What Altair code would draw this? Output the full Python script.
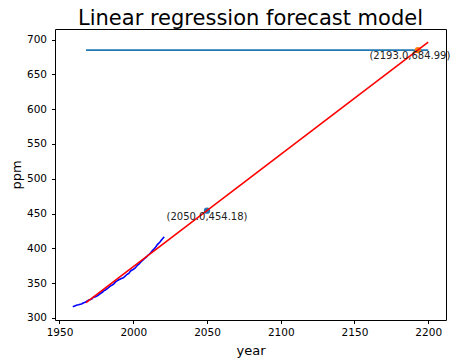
import altair as alt
import pandas as pd

# Observed annual CO2 (ppm)
years = list(range(1959, 2022))
co2 = [315.98, 316.91, 317.64, 318.45, 318.99, 319.62, 320.04, 321.37, 322.18, 323.05,
       324.62, 325.68, 326.32, 327.46, 329.68, 330.19, 331.13, 332.03, 333.84, 335.41,
       336.84, 338.76, 340.12, 341.48, 343.15, 344.87, 346.35, 347.61, 349.31, 351.69,
       353.20, 354.45, 355.70, 356.54, 357.21, 358.96, 360.97, 362.74, 363.88, 366.84,
       368.54, 369.71, 371.32, 373.45, 375.98, 377.70, 379.98, 382.09, 384.02, 385.83,
       387.64, 390.10, 391.85, 394.06, 396.74, 398.81, 401.01, 404.41, 406.76, 408.72,
       411.66, 414.24, 416.45]

# Regression line
fit_years = [1968, 2200]
fit_ppm = [321.83, 696.29]

# Horizontal reference line
hline_x = [1968, 2200]
hline_y = [684.99, 684.99]

# Highlighted points
pt_years = [2050, 2193]
pt_ppm = [454.18, 684.99]
pt_labels = ["(2050.0,454.18)", "(2193.0,684.99)"]
pt_colors = ["#1f77b4", "#ff7f0e"]

obs = pd.DataFrame({"year": years, "ppm": co2})
fit = pd.DataFrame({"year": fit_years, "ppm": fit_ppm})
hl = pd.DataFrame({"year": hline_x, "ppm": hline_y})
pts = pd.DataFrame({"year": pt_years, "ppm": pt_ppm, "label": pt_labels, "color": pt_colors})

xs = alt.Scale(domain=[1946.95, 2212.05], nice=False, zero=False)
ys = alt.Scale(domain=[296.97, 715.3], nice=False, zero=False)

xenc = alt.X("year:Q", scale=xs, title="year",
             axis=alt.Axis(values=[1950, 2000, 2050, 2100, 2150, 2200], format="d"))
yenc = alt.Y("ppm:Q", scale=ys, title="ppm",
             axis=alt.Axis(values=[300, 350, 400, 450, 500, 550, 600, 650, 700]))

hline = alt.Chart(hl).mark_line(color="#1f77b4", strokeWidth=1.6).encode(x=xenc, y=yenc)
obs_line = alt.Chart(obs).mark_line(color="blue", strokeWidth=1.6).encode(x=xenc, y=yenc)
dots = alt.Chart(pts).mark_circle(size=40, opacity=1).encode(
    x=xenc, y=yenc, color=alt.Color("color:N", scale=None))
fit_line = alt.Chart(fit).mark_line(color="red", strokeWidth=1.6).encode(x=xenc, y=yenc)
label1 = alt.Chart(pts).transform_filter(alt.datum.year == 2050).mark_text(
    font="DejaVu Sans", fontSize=10, color="#222222", align="center", baseline="top", dy=1
).encode(x=xenc, y=yenc, text="label:N")
label2 = alt.Chart(pts).transform_filter(alt.datum.year == 2193).mark_text(
    font="DejaVu Sans", fontSize=10, color="#222222", align="center", baseline="top", dy=1, dx=-8
).encode(x=xenc, y=yenc, text="label:N")

chart = alt.layer(hline, obs_line, dots, fit_line, label1, label2).properties(
    width=391, height=291,
    title=alt.TitleParams("Linear regression forecast model", font="DejaVu Sans",
                          fontSize=21, fontWeight="normal", color="black", offset=0),
    autosize=alt.AutoSizeParams(type="none"),
    padding={"left": 47, "top": 21, "right": 8, "bottom": 40},
).configure_view(stroke="black", strokeWidth=1).configure_axis(
    grid=False, domain=False, ticks=True, tickSize=3.5, tickColor="black",
    labelFont="DejaVu Sans", labelFontSize=10.5, labelColor="black",
    titleFont="DejaVu Sans", titleFontSize=13, titleFontWeight="normal", titleColor="black",
).configure_axisX(labelPadding=4, titlePadding=6).configure_axisY(labelPadding=5, titlePadding=3)

chart.save("out.html", embed_options={"renderer": "svg", "actions": False})
